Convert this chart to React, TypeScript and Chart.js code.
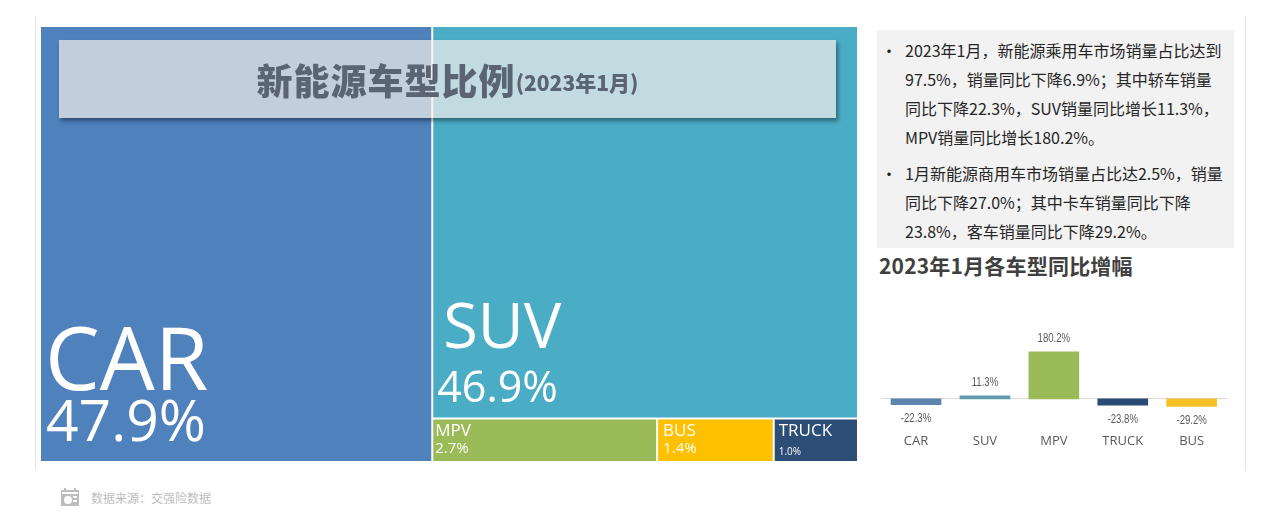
import React, { useEffect, useRef } from "react";
import { Chart, registerables, BarController } from "chart.js";

Chart.register(...registerables);

// ---- data ----
const shareCategories = ["CAR", "SUV", "MPV", "BUS", "TRUCK"];
const shareValues = [47.9, 46.9, 2.7, 1.4, 1.0];
const shareColors = ["#4f81bd", "#4bacc6", "#9bbb59", "#ffc000", "#2c4d75"];

const growthCategories = ["CAR", "SUV", "MPV", "TRUCK", "BUS"];
const growthValues = [-22.3, 11.3, 180.2, -23.8, -29.2];
const growthColors = ["#5b84ae", "#5f9cae", "#9bbb59", "#2a4a75", "#f6c026"];

const noteOne = [
  "2023年1月，新能源乘用车市场销量占比达到",
  "97.5%，销量同比下降6.9%；其中轿车销量",
  "同比下降22.3%，SUV销量同比增长11.3%，",
  "MPV销量同比增长180.2%。",
];
const noteTwo = [
  "1月新能源商用车市场销量占比达2.5%，销量",
  "同比下降27.0%；其中卡车销量同比下降",
  "23.8%，客车销量同比下降29.2%。",
];

// label styling per treemap cell: [name px, value px, name dx, value dx, name up, value up]
const cellLabelStyles = [
  [87, 57, 4, 5, 71, 20],
  [63, 43, 10, 4, 69, 15],
  [17, 15, 2, 2, 25, 8],
  [17, 15, 5, 5, 25, 8],
  [17, 10, 4, 4, 25, 6],
];

const LATIN = '"Open Sans", "Noto Sans CJK SC", sans-serif';
const CJK = '"Noto Sans CJK SC", "Noto Sans", sans-serif';

// A bar controller that lays its bars out as a treemap through the chart's linear scales.
class TreemapController extends BarController {
  static id = "treemap";
  updateElements(rects: any[], start: number, count: number, mode: any) {
    const meta: any = this.getMeta();
    const xs = meta.xScale;
    const ys = meta.yScale;
    const values = this.getDataset().data as number[];
    const total = values.reduce((a, b) => a + b, 0);
    const rest = total - values[0];
    const tail = rest - values[1];
    const gap = 1;
    let run = values[0];
    for (let i = start; i < start + count; i++) {
      let x0, x1, y0, y1;
      if (i === 0) {
        [x0, x1, y0, y1] = [0, values[0], 0, 100];
      } else if (i === 1) {
        [x0, x1, y0, y1] = [values[0], total, (tail / rest) * 100, 100];
      } else {
        const w = (values[i] / tail) * rest;
        [x0, x1, y0, y1] = [run, run + w, 0, (tail / rest) * 100];
        run += w;
      }
      const l = xs.getPixelForValue(x0) + (i === 0 ? 0 : gap);
      const r = xs.getPixelForValue(x1) - (i === 1 || i === values.length - 1 ? 0 : gap);
      const t = ys.getPixelForValue(y1) + (i < 2 ? 0 : gap);
      const b = ys.getPixelForValue(y0) - (i === 1 ? gap : 0);
      this.updateElement(
        rects[i],
        i,
        {
          horizontal: false,
          x: (l + r) / 2,
          y: t,
          base: b,
          width: r - l,
          height: b - t,
          borderSkipped: { top: true, left: true, right: true, bottom: true },
          enableBorderRadius: false,
          inflateAmount: 0,
          options: this.resolveDataElementOptions(i, mode),
        },
        mode
      );
    }
  }
}
Chart.register(TreemapController as any);

const cellLabelsPlugin = {
  id: "cellLabels",
  afterDatasetsDraw(chart: any) {
    const ctx = chart.ctx;
    const meta = chart.getDatasetMeta(0);
    ctx.save();
    ctx.fillStyle = "#ffffff";
    ctx.textAlign = "left";
    ctx.textBaseline = "alphabetic";
    meta.data.forEach((el: any, i: number) => {
      const [np, vp, ndx, vdx, nup, vup] = cellLabelStyles[i];
      const left = el.x - el.width / 2;
      ctx.font = `${np}px ${LATIN}`;
      ctx.fillText(shareCategories[i], left + ndx, el.base - nup);
      ctx.font = `${vp}px ${LATIN}`;
      ctx.fillText(shareValues[i].toFixed(1) + "%", left + vdx, el.base - vup);
    });
    ctx.restore();
  },
};

const barLabelsPlugin = {
  id: "barLabels",
  afterDatasetsDraw(chart: any) {
    const ctx = chart.ctx;
    const meta = chart.getDatasetMeta(0);
    ctx.save();
    ctx.fillStyle = "#595959";
    ctx.textAlign = "center";
    ctx.textBaseline = "middle";
    ctx.font = '12px "Liberation Sans Narrow", "Liberation Sans", sans-serif';
    meta.data.forEach((el: any, i: number) => {
      const v = growthValues[i];
      const y = v >= 0 ? el.y - 13 : el.y + 14;
      ctx.save();
      ctx.translate(el.x, y);
      ctx.scale(0.8, 1.05);
      ctx.fillText(v.toFixed(1) + "%", 0, 0);
      ctx.restore();
    });
    ctx.restore();
  },
};

function Note({ lines, top }: { lines: string[]; top: number }) {
  return (
    <>
      <div style={{ position: "absolute", left: 881, top: top, fontSize: 16, lineHeight: "29px", color: "#222" }}>•</div>
      {lines.map((t, i) => (
        <div
          key={i}
          style={{
            position: "absolute",
            left: 905,
            top: top + i * 29,
            fontSize: 16,
            lineHeight: "29px",
            whiteSpace: "nowrap",
            color: "#262626",
          }}
        >
          {t}
        </div>
      ))}
    </>
  );
}

export default function App() {
  const treeRef = useRef<HTMLCanvasElement>(null);
  const barRef = useRef<HTMLCanvasElement>(null);

  useEffect(() => {
    const tree = new Chart(treeRef.current as any, {
      type: "treemap" as any,
      data: {
        labels: shareCategories,
        datasets: [{ data: shareValues, backgroundColor: shareColors, borderWidth: 0 }],
      },
      options: {
        animation: false,
        responsive: false,
        maintainAspectRatio: false,
        layout: { padding: 0 },
        plugins: { legend: { display: false }, tooltip: { enabled: false }, title: { display: false } },
        scales: {
          x: { type: "linear", display: false, offset: false, min: 0, max: 99.9 },
          y: { type: "linear", display: false, min: 0, max: 100 },
        },
      } as any,
      plugins: [cellLabelsPlugin],
    });
    const bars = new Chart(barRef.current as any, {
      type: "bar",
      data: {
        labels: growthCategories,
        datasets: [{ data: growthValues, backgroundColor: growthColors, barThickness: 50 }],
      },
      options: {
        animation: false,
        responsive: false,
        maintainAspectRatio: false,
        layout: { padding: 0 },
        plugins: { legend: { display: false }, tooltip: { enabled: false } },
        scales: {
          x: {
            position: { y: 0 },
            grid: { display: false, drawTicks: false },
            border: { display: true, color: "#d9d9d9", width: 1 },
            ticks: {
              padding: 35,
              color: "#595959",
              maxRotation: 0,
              autoSkip: false,
              font: { size: 13, family: LATIN },
            },
          },
          y: { display: false, min: -234, max: 302 },
        },
      } as any,
      plugins: [barLabelsPlugin],
    });
    return () => {
      tree.destroy();
      bars.destroy();
    };
  }, []);

  return (
    <div
      style={{
        position: "fixed",
        left: 0,
        top: 0,
        width: 1280,
        height: 528,
        background: "#fff",
        overflow: "hidden",
        fontFamily: CJK,
      }}
    >
      <div style={{ position: "absolute", left: 35, top: 16, width: 1, height: 454, background: "#e4e4e4" }} />
      <div style={{ position: "absolute", left: 1245, top: 16, width: 1, height: 454, background: "#e4e4e4" }} />

      <canvas ref={treeRef} width={816} height={434} style={{ position: "absolute", left: 41, top: 27, display: "block" }} />

      <div
        style={{
          position: "absolute",
          left: 59,
          top: 40,
          width: 777,
          height: 78,
          background: "rgba(245,239,235,0.7)",
          boxShadow: "2px 3px 4px rgba(0,0,0,0.4)",
          display: "flex",
          alignItems: "center",
          justifyContent: "center",
          color: "#5a6472",
          fontWeight: 900,
          whiteSpace: "nowrap",
        }}
      >
        <span style={{ fontSize: 36, lineHeight: "78px", letterSpacing: 1 }}>新能源车型比例</span>
        <span style={{ fontSize: 21, lineHeight: "78px", position: "relative", top: 3 }}>(2023年1月)</span>
      </div>

      <div style={{ position: "absolute", left: 877, top: 30, width: 357, height: 218, background: "#f2f2f2" }} />
      <Note lines={noteOne} top={36} />
      <Note lines={noteTwo} top={159} />

      <div
        style={{
          position: "absolute",
          left: 879,
          top: 250,
          fontSize: 21,
          lineHeight: "30px",
          fontWeight: 700,
          letterSpacing: 0.2,
          color: "#404040",
          whiteSpace: "nowrap",
        }}
      >
        2023年1月各车型同比增幅
      </div>

      <canvas ref={barRef} width={368} height={140} style={{ position: "absolute", left: 870, top: 320, display: "block" }} />

      <svg width={18} height={18} style={{ position: "absolute", left: 61, top: 488 }}>
        <rect x={0} y={2} width={18} height={16} fill="#bdbdbd" />
        <rect x={1} y={4} width={16} height={2} fill="#fff" />
        <rect x={3} y={0} width={2} height={4} fill="#bdbdbd" />
        <rect x={13} y={0} width={2} height={4} fill="#bdbdbd" />
        <circle cx={7} cy={12} r={4} fill="#fff" />
        <rect x={12} y={8} width={4} height={2} fill="#fff" />
        <rect x={12} y={12} width={4} height={2} fill="#fff" />
      </svg>
      <div style={{ position: "absolute", left: 91, top: 489, fontSize: 12, lineHeight: "17px", color: "#bdbdbd", whiteSpace: "nowrap" }}>
        数据来源：交强险数据
      </div>
    </div>
  );
}
